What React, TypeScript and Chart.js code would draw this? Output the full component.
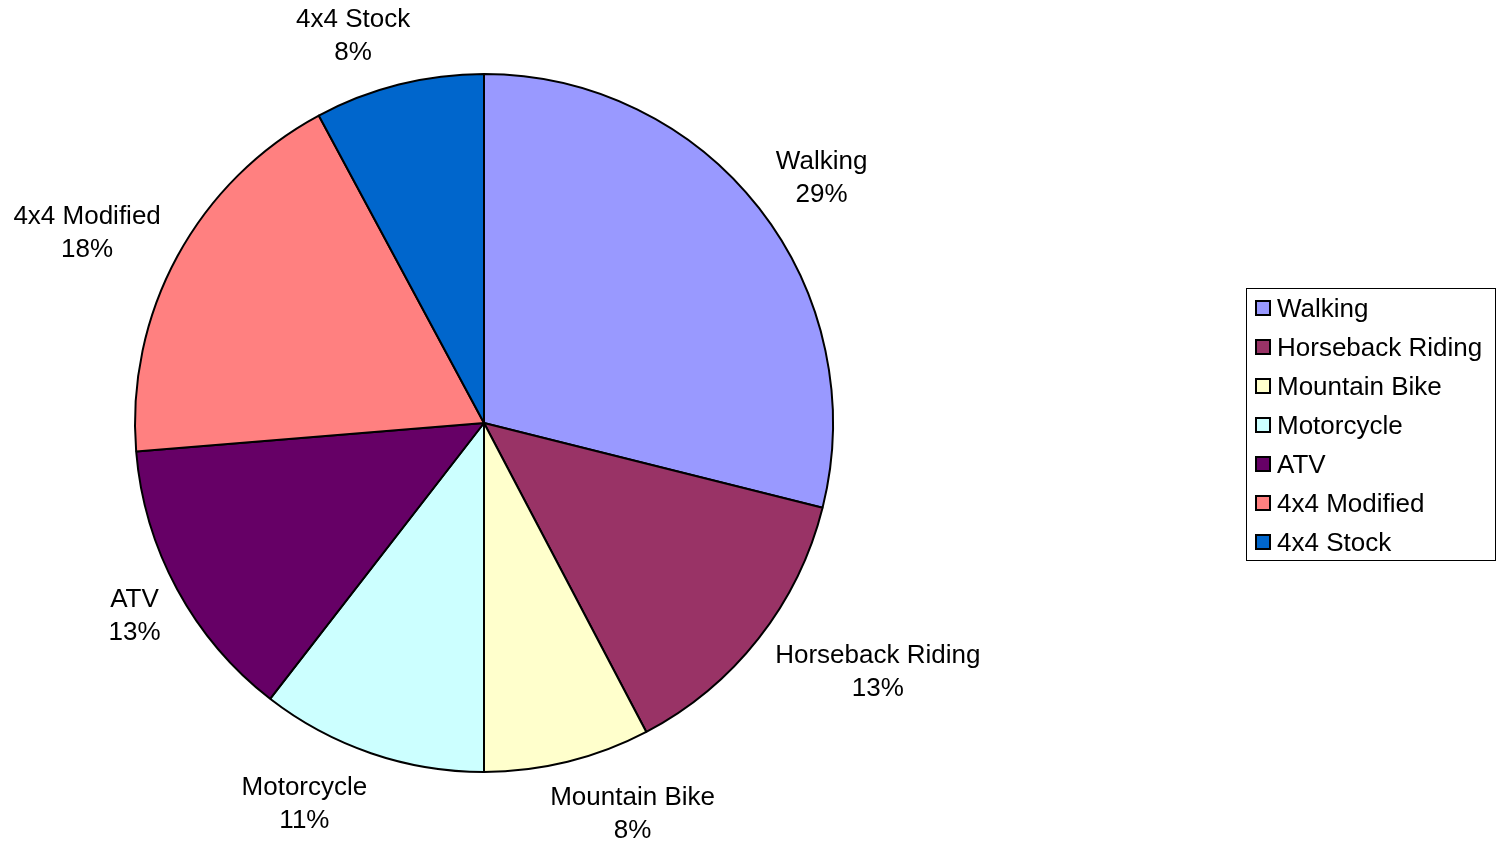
import React, { useEffect, useRef } from "react";
import { Chart, registerables } from "chart.js";

Chart.register(...registerables);

const categories = ["Walking", "Horseback Riding", "Mountain Bike", "Motorcycle", "ATV", "4x4 Modified", "4x4 Stock"];
const values = [28.9, 13.4, 7.7, 10.5, 13.2, 18.45, 7.85];
const colors = ["#9999FF", "#993366", "#FFFFCC", "#CCFFFF", "#660066", "#FF8080", "#0066CC"];

const FONT = '26px "Liberation Sans", Arial, sans-serif';

const labelPlugin = {
  id: "outsideLabels",
  afterDatasetsDraw(chart: any) {
    const ctx = chart.ctx;
    const meta = chart.getDatasetMeta(0);
    const data = chart.data.datasets[0].data as number[];
    const total = data.reduce((a, b) => a + b, 0);
    ctx.save();
    ctx.font = FONT;
    ctx.fillStyle = "#000";
    ctx.textAlign = "center";
    ctx.textBaseline = "middle";
    meta.data.forEach((arc: any, i: number) => {
      const { x, y, outerRadius, startAngle, endAngle } = arc.getProps(["x", "y", "outerRadius", "startAngle", "endAngle"], true);
      const mid = (startAngle + endAngle) / 2;
      const r = outerRadius + 20;
      const px = x + Math.cos(mid) * r;
      const py = y + Math.sin(mid) * r;
      const line1 = chart.data.labels[i];
      const line2 = Math.round((data[i] / total) * 100) + "%";
      const w = Math.max(ctx.measureText(line1).width, ctx.measureText(line2).width);
      const h = 64;
      const k = Math.max(-1, Math.min(1, 3 * Math.cos(mid)));
      const cx = px + (w / 2) * k + 1;
      const cy = py + (h / 2) * Math.sin(mid) + 2;
      ctx.fillText(line1, cx, cy - 16.5);
      ctx.fillText(line2, cx, cy + 16.5);
    });
    ctx.restore();
  },
};

const legendPlugin = {
  id: "boxLegend",
  afterDraw(chart: any) {
    const ctx = chart.ctx;
    const left = 1246.5, top = 288.5, width = 249, height = 272;
    ctx.save();
    ctx.strokeStyle = "#000";
    ctx.lineWidth = 1;
    ctx.strokeRect(left, top, width, height);
    ctx.font = FONT;
    ctx.textAlign = "left";
    ctx.textBaseline = "middle";
    const labels = chart.data.labels as string[];
    const bg = chart.data.datasets[0].backgroundColor as string[];
    labels.forEach((lab, i) => {
      const cyRow = 308 + i * 39;
      ctx.fillStyle = bg[i];
      ctx.fillRect(1256, cyRow - 7, 14, 14);
      ctx.lineWidth = 2;
      ctx.strokeStyle = "#000";
      ctx.strokeRect(1256, cyRow - 7, 14, 14);
      ctx.fillStyle = "#000";
      ctx.fillText(lab, 1277, cyRow + 2);
    });
    ctx.restore();
  },
};

export default function App() {
  const ref = useRef<HTMLCanvasElement | null>(null);
  useEffect(() => {
    if (!ref.current) return;
    const chart = new Chart(ref.current, {
      type: "pie",
      data: {
        labels: categories,
        datasets: [
          {
            data: values,
            backgroundColor: colors,
            borderColor: "#000",
            borderWidth: 2,
          },
        ],
      },
      options: {
        animation: false,
        responsive: false,
        layout: { padding: { left: 134, right: 667, top: 73, bottom: 69 } },
        plugins: { legend: { display: false }, tooltip: { enabled: false } },
      },
      plugins: [labelPlugin, legendPlugin],
    });
    return () => chart.destroy();
  }, []);
  return (
    <div style={{ position: "absolute", left: 0, top: 0, width: 1501, height: 842, background: "#fff" }}>
      <canvas ref={ref} width={1501} height={842} style={{ display: "block" }} />
    </div>
  );
}
